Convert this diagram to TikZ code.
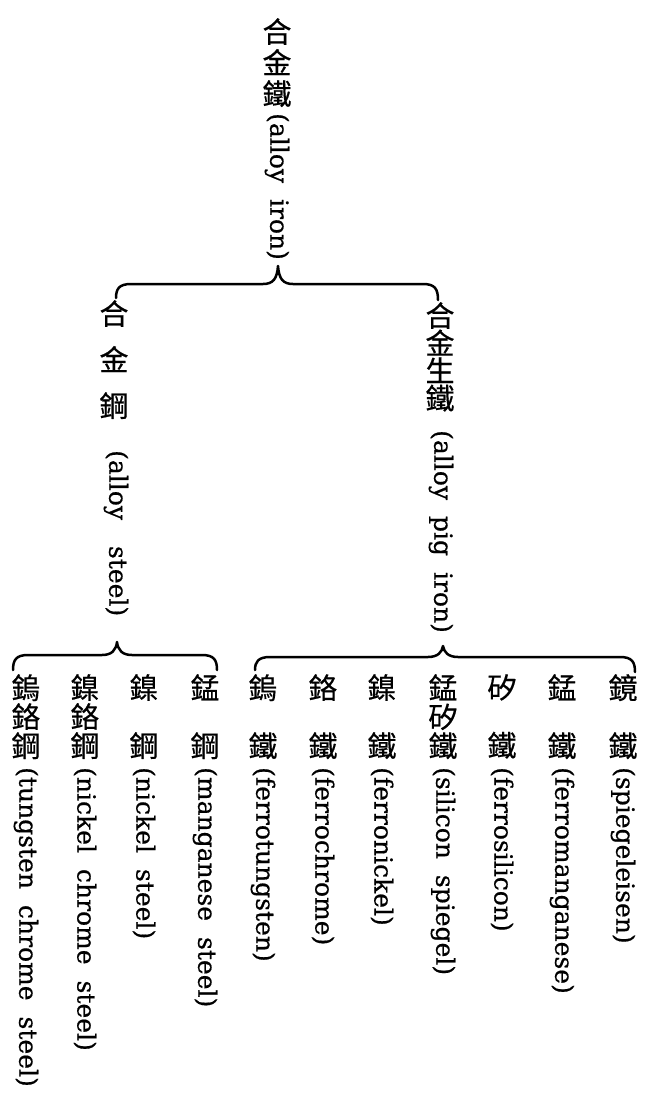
\documentclass[tikz,border=0pt]{standalone}
\usepackage{fontspec}
\newfontfamily\cjk{Noto Sans CJK TC}[FakeBold=0.5]
\newfontfamily\engf{DejaVu Serif}[FakeBold=0.6]
\newcommand\engfont{\engf\fontsize{25bp}{30bp}\selectfont\spaceskip 16bp\relax}
\usetikzlibrary{calc}
% left end x, left end y, tip x, tip y, right end x, right end y, bar y
\newcommand\hbrace[7]{%
  \coordinate (bl#1) at (#1,#2);
  \coordinate (bt#3) at (#3,#4);
  \coordinate (br#5) at (#5,#6);
  \draw[brc] (bl#1) .. controls (#1,#7+5) and (#1+3,#7) .. (#1+15,#7)
    -- (#3-15,#7) .. controls (#3-5,#7) and (#3-1,#7-5) .. (bt#3)
    .. controls (#3+1,#7-5) and (#3+5,#7) .. (#3+15,#7)
    -- (#5-15,#7) .. controls (#5-3,#7) and (#5,#7+5) .. (br#5);}
\begin{document}
\begin{tikzpicture}[x=1bp,y=-1bp,
  cjkcol/.style={font=\cjk\fontsize{29bp}{#1}\selectfont, align=center, inner sep=0pt, anchor=north},
  eng/.style={font=\engfont, rotate=-90, anchor=west, inner sep=0pt},
  brc/.style={line width=2.5bp, line cap=round, line join=round}]
\useasboundingbox[fill=white] (0,0) rectangle (648,1101);

% top level
\node[cjkcol=31bp] (top) at (277,18) {合\\金\\鐵};
\node[eng] (topE) at (277,113) {(alloy iron)};

% second level
\node[cjkcol=46bp] (steel) at (114,300) {合\\金\\鋼};
\node[eng] (steelE) at (116,450) {(alloy\hspace{26bp}steel)};
\node[cjkcol=27.5bp] (pig) at (440,302) {合\\金\\生\\鐵};
\node[eng] (pigE) at (441,430) {(alloy pig iron)};

% leaves
\foreach \i/\x/\c/\e in {
  1/26/{鎢\\鉻\\鋼}/{(tungsten chrome steel)},
  2/85/{鎳\\鉻\\鋼}/{(nickel chrome steel)},
  3/144/{鎳\\\phantom{金}\\鋼}/{(nickel steel)},
  4/205/{錳\\\phantom{金}\\鋼}/{(manganese steel)},
  5/263/{鎢\\\phantom{金}\\鐵}/{(ferrotungsten)},
  6/323/{鉻\\\phantom{金}\\鐵}/{(ferrochrome)},
  7/382/{鎳\\\phantom{金}\\鐵}/{(ferronickel)},
  8/443/{錳\\矽\\鐵}/{(silicon spiegel)},
  9/502/{矽\\\phantom{金}\\鐵}/{(ferrosilicon)},
  10/562/{錳\\\phantom{金}\\鐵}/{(ferromanganese)},
  11/623/{鏡\\\phantom{金}\\鐵}/{(spiegeleisen)}}{
  \node[cjkcol=29bp] (l\i) at (\x,674) {\c};
  \node[eng] (e\i) at (\x,767) {\e};
}

% braces
\hbrace{116}{298}{278}{266}{438}{300}{284}
\hbrace{13}{670}{117}{642}{217}{670}{655}
\hbrace{255}{670}{443}{646}{635}{672}{657}
\end{tikzpicture}
\end{document}
